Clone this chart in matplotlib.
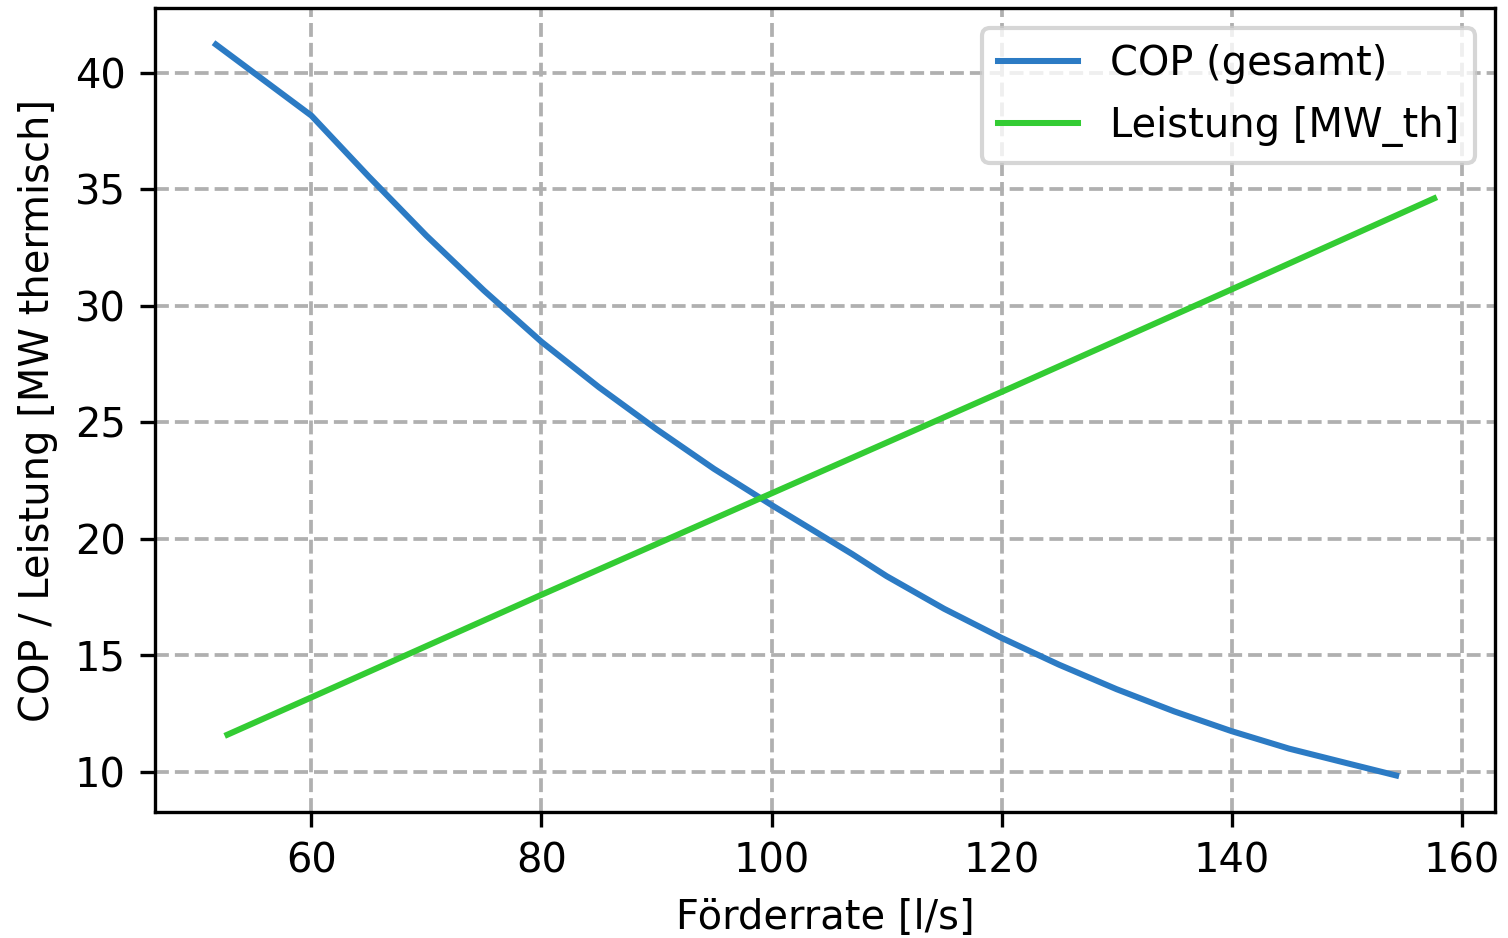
import matplotlib
matplotlib.use('Agg')
import matplotlib.pyplot as plt

# Werte
cop_rate = [51.7, 60, 65, 70, 75, 80, 85, 90, 95, 100, 105, 107,
            110, 115, 120, 125, 130, 135, 140, 145, 150, 154.3]
cop_values = [41.2, 38.15, 35.53, 33.0, 30.65, 28.45, 26.5, 24.7, 23.0, 21.45, 19.95, 19.35,
              18.4, 17.0, 15.75, 14.6, 13.55, 12.6, 11.75, 11.0, 10.38, 9.85]

leistung_rate = [52.7, 60, 80, 100, 120, 140, 157.6]
leistung_values = [11.6, 13.2, 17.6, 21.95, 26.3, 30.7, 34.6]

plt.rcParams['font.size'] = 9.6

fig, ax = plt.subplots(figsize=(1508/300, 938/300), dpi=300)
fig.subplots_adjust(left=0.1028, right=0.9914, top=0.9915, bottom=0.1343)

ax.plot(cop_rate, cop_values, color='#2c7bc4', linewidth=1.45, label='COP (gesamt)')
ax.plot(leistung_rate, leistung_values, color='#33cc33', linewidth=1.45, label='Leistung [MW_th]')

ax.set_xlabel('Förderrate [l/s]')
ax.set_ylabel('COP / Leistung [MW thermisch]')
ax.set_xticks([60, 80, 100, 120, 140, 160])
ax.set_yticks([10, 15, 20, 25, 30, 35, 40])
ax.grid(True, linestyle='--', color='#b0b0b0', linewidth=0.9)
ax.legend(loc='upper right', labelspacing=0.55)

fig.savefig('out.png', dpi=300)
